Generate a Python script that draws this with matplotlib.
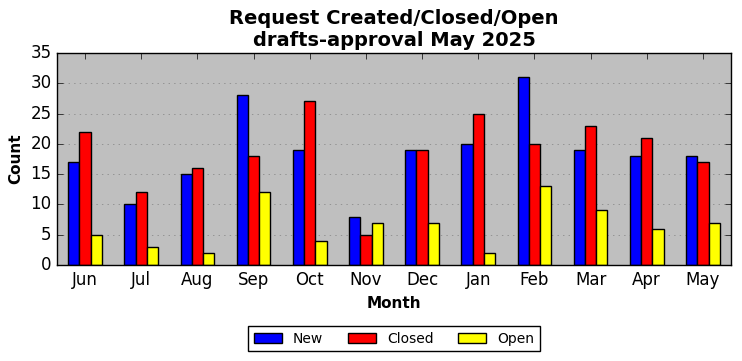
import matplotlib
matplotlib.use("Agg")
import matplotlib.pyplot as plt
import numpy as np

plt.style.use("classic")

months = ["Jun", "Jul", "Aug", "Sep", "Oct", "Nov", "Dec", "Jan", "Feb", "Mar", "Apr", "May"]
new_vals = [17, 10, 15, 28, 19, 8, 19, 20, 31, 19, 18, 18]
closed_vals = [22, 12, 16, 18, 27, 5, 19, 25, 20, 23, 21, 17]
open_vals = [5, 3, 2, 12, 4, 7, 7, 2, 13, 9, 6, 7]

fig = plt.figure(figsize=(7.42, 3.61), dpi=100, facecolor="white")
ax = fig.add_axes([57/742, 1-265/361, (731-57)/742, (265-53)/361])
ax.set_facecolor("#bfbfbf")

x = np.arange(len(months))
w = 0.2
ax.bar(x - w, new_vals, w, color="blue", edgecolor="black", label="New", align="center")
ax.bar(x, closed_vals, w, color="red", edgecolor="black", label="Closed", align="center")
ax.bar(x + w, open_vals, w, color="yellow", edgecolor="black", label="Open", align="center")

ax.set_xlim(-0.5, len(months) - 0.5)
ax.set_ylim(0, 35)
ax.set_yticks(range(0, 36, 5))
ax.set_xticks(x)
ax.set_xticklabels(months, fontsize=12)
ax.tick_params(axis="y", labelsize=12)
ax.yaxis.grid(True, linestyle=":", color="#808080")
ax.set_axisbelow(True)
ax.set_xlabel("Month", fontsize=11, fontweight="bold")
ax.set_ylabel("Count", fontsize=11, fontweight="bold")
ax.set_title("Request Created/Closed/Open\ndrafts-approval May 2025", fontsize=14, fontweight="bold")
ax.legend(loc="upper center", bbox_to_anchor=(0.5, -0.255), ncol=3, fontsize=10,
          frameon=True, handlelength=2.0, columnspacing=1.8)

fig.savefig("out.png", dpi=100, facecolor="white")
